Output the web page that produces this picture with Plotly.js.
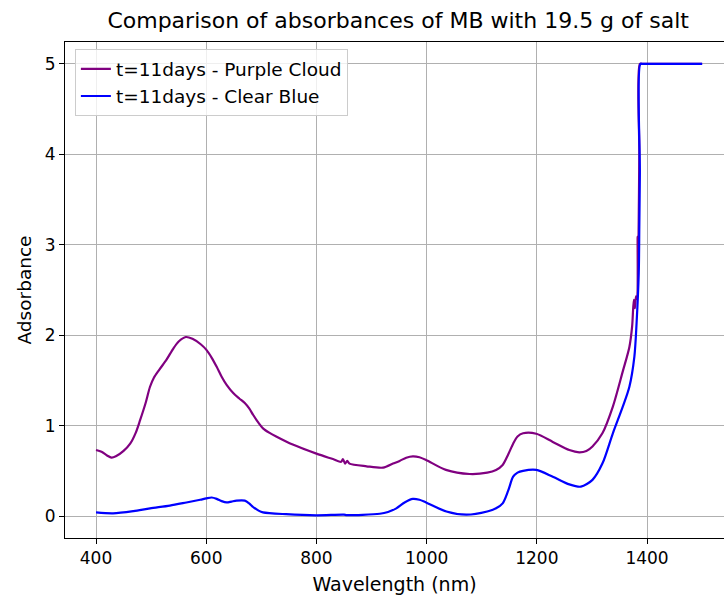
<!DOCTYPE html>
<html>
<head>
<meta charset="utf-8">
<script src="https://cdn.plot.ly/plotly-3.0.1.min.js"></script>
<style>html,body{margin:0;padding:0;background:#fff;}#chart{width:724px;height:601px;}</style>
</head>
<body>
<div id="chart"></div>
<script>
// Wavelength (nm) and absorbance
const purpleWavelength = [400, 410, 420, 428, 436, 450, 462, 472, 480, 490, 498, 505, 515, 528, 540, 550, 563, 575, 590, 600, 610, 619, 628, 637, 649, 660, 670, 678, 685, 695, 703, 715, 727, 757, 800, 830, 845, 848, 852, 856, 860, 891, 921, 939, 951, 963, 975, 987, 999, 1035, 1078, 1110, 1126, 1138, 1148, 1157, 1165, 1175, 1199, 1229, 1259, 1277, 1290, 1301, 1319, 1338, 1356, 1368, 1373, 1376, 1378, 1380, 1382, 1383, 1384, 1386, 1387, 1392, 1500];
const purpleAbsorbance = [0.73, 0.71, 0.67, 0.645, 0.66, 0.72, 0.80, 0.92, 1.06, 1.25, 1.43, 1.53, 1.62, 1.73, 1.85, 1.93, 1.98, 1.96, 1.90, 1.84, 1.75, 1.65, 1.54, 1.45, 1.36, 1.30, 1.25, 1.19, 1.12, 1.03, 0.97, 0.92, 0.88, 0.79, 0.69, 0.63, 0.60, 0.63, 0.58, 0.61, 0.58, 0.55, 0.535, 0.58, 0.61, 0.645, 0.66, 0.65, 0.62, 0.51, 0.465, 0.48, 0.51, 0.565, 0.68, 0.80, 0.88, 0.915, 0.91, 0.82, 0.73, 0.705, 0.72, 0.77, 0.915, 1.21, 1.60, 1.87, 2.10, 2.39, 2.30, 2.43, 2.40, 3.09, 2.95, 4.0, 5.0, 5.0, 5.0];

const blueWavelength = [400, 431, 468, 498, 534, 564, 589, 600, 610, 619, 628, 637, 646, 655, 670, 678, 685, 695, 703, 745, 800, 850, 855, 915, 930, 945, 960, 975, 987, 999, 1036, 1072, 1110, 1126, 1138, 1148, 1157, 1165, 1175, 1199, 1229, 1259, 1280, 1301, 1319, 1338, 1356, 1368, 1377, 1381, 1385, 1386, 1387, 1388, 1393, 1500];
const blueAbsorbance = [0.04, 0.03, 0.055, 0.085, 0.115, 0.15, 0.18, 0.195, 0.205, 0.19, 0.165, 0.15, 0.16, 0.17, 0.17, 0.14, 0.10, 0.06, 0.04, 0.02, 0.008, 0.015, 0.01, 0.025, 0.045, 0.085, 0.15, 0.19, 0.18, 0.15, 0.05, 0.015, 0.05, 0.085, 0.14, 0.28, 0.435, 0.48, 0.50, 0.51, 0.435, 0.35, 0.325, 0.40, 0.58, 0.915, 1.21, 1.43, 1.76, 2.13, 2.69, 3.2, 3.80, 5.0, 5.0, 5.0];

const seriesNames = ['t=11days - Purple Cloud', 't=11days - Clear Blue'];
const xTicks = [400, 600, 800, 1000, 1200, 1400];
const yTicks = [0, 1, 2, 3, 4, 5];

const font = 'DejaVu Sans, sans-serif';

const traces = [
  {x: purpleWavelength, y: purpleAbsorbance, name: seriesNames[0], mode: 'lines',
   line: {color: '#800080', width: 2.2, shape: 'spline', smoothing: 0.8}},
  {x: blueWavelength, y: blueAbsorbance, name: seriesNames[1], mode: 'lines',
   line: {color: '#0000ff', width: 2.2, shape: 'spline', smoothing: 0.8}}
];

const layout = {
  width: 724, height: 601,
  margin: {l: 65, r: 0, t: 42, b: 63, pad: 0},
  paper_bgcolor: '#fff', plot_bgcolor: '#fff',
  font: {family: font, size: 17, color: '#000'},
  title: {text: 'Comparison of absorbances of MB with 19.5 g of salt',
          font: {family: font, size: 22, color: '#000'},
          x: 0.55, xanchor: 'center', y: 0.967, yanchor: 'middle'},
  xaxis: {
    range: [343.7, 1539.7], tickvals: xTicks, ticktext: xTicks.map(String),
    showgrid: true, gridcolor: '#b0b0b0', gridwidth: 1,
    zeroline: false, showline: true, linecolor: '#000', linewidth: 1, mirror: true,
    ticks: 'outside', ticklen: 5, tickcolor: '#000',
    tickfont: {family: font, size: 17, color: '#000'},
    title: {text: 'Wavelength (nm)', font: {family: font, size: 19, color: '#000'}, standoff: 10}
  },
  yaxis: {
    range: [-0.243, 5.243], tickvals: yTicks, ticktext: yTicks.map(String),
    showgrid: true, gridcolor: '#b0b0b0', gridwidth: 1,
    zeroline: false, showline: true, linecolor: '#000', linewidth: 1, mirror: false,
    ticks: 'outside', ticklen: 5, tickcolor: '#000',
    tickfont: {family: font, size: 17, color: '#000'},
    title: {text: 'Adsorbance', font: {family: font, size: 18.5, color: '#000'}, standoff: 8}
  },
  showlegend: true,
  legend: {x: 0.015, y: 0.985, xanchor: 'left', yanchor: 'top',
           bgcolor: 'rgba(255,255,255,0.8)', bordercolor: '#cccccc', borderwidth: 1,
           font: {family: font, size: 18.5, color: '#000'}, tracegroupgap: 0}
};

Plotly.newPlot('chart', traces, layout, {displayModeBar: false, staticPlot: true});
</script>
</body>
</html>
